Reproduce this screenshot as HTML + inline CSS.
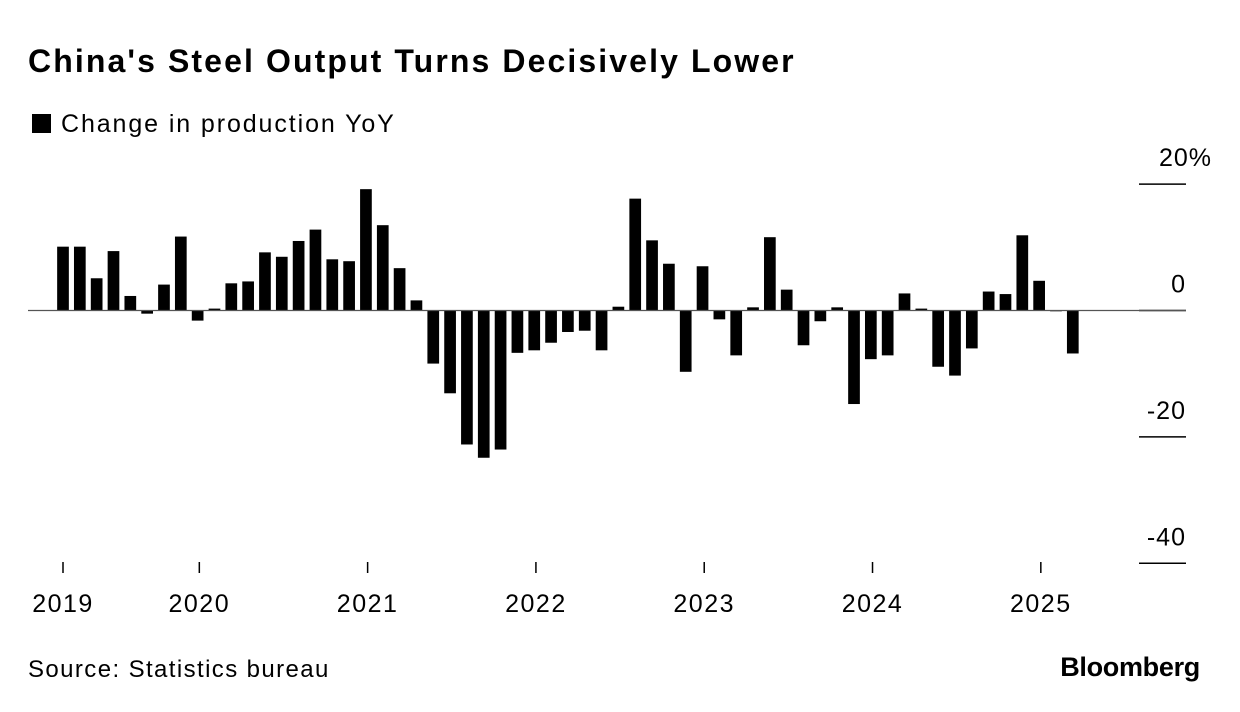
<!DOCTYPE html>
<html><head><meta charset="utf-8"><style>
body{margin:0;background:#fff;font-family:"Liberation Sans",sans-serif;}
#wrap{position:relative;width:1240px;height:712px;overflow:hidden}
.t{position:absolute;white-space:nowrap;color:#000}
</style></head><body>
<div id="wrap">
<div class="t" style="left:28px;top:43px;font-size:32px;font-weight:bold;letter-spacing:2.1px">China's Steel Output Turns Decisively Lower</div>
<div class="t" style="left:32px;top:110px;font-size:25px;letter-spacing:1.9px"><span style="display:inline-block;width:19px;height:19px;background:#000;margin-right:10px;vertical-align:-1px"></span>Change in production YoY</div>
<svg id="chart" width="1240" height="712" style="position:absolute;left:0;top:0"></svg>
<div class="t" style="left:28px;top:656px;font-size:24px;letter-spacing:1.4px">Source: Statistics bureau</div>
<div class="t" style="right:40px;top:652px;font-size:27px;font-weight:bold;letter-spacing:-0.3px">Bloomberg</div>
</div>
<script>
const values=[10.1,10.1,5.1,9.4,2.3,-0.5,4.1,11.7,-1.6,0.3,4.3,4.6,9.2,8.5,11.0,12.8,8.1,7.8,19.2,13.5,6.7,1.6,-8.4,-13.1,-21.2,-23.3,-22.0,-6.7,-6.3,-5.1,-3.4,-3.2,-6.3,0.6,17.7,11.1,7.4,-9.7,7.0,-1.4,-7.1,0.5,11.6,3.3,-5.5,-1.7,0.5,-14.8,-7.7,-7.1,2.7,0.3,-8.9,-10.3,-6.0,3.0,2.6,11.9,4.7,-0.1,-6.8];
const yTicks=[20,0,-20,-40];
const yTickLabels=["20%","0","-20","-40"];
const years=["2019","2020","2021","2022","2023","2024","2025"];
const yearPos=[0,8.1,18.1,28.1,38.1,48.1,58.1];
const NS="http://www.w3.org/2000/svg";
const svg=document.getElementById('chart');
const y0=310.5,ppu=6.32,x0=63,step=16.83,bw=11.7;
const y=v=>y0-v*ppu;
const x=i=>x0+i*step;
function mk(t,a){const e=document.createElementNS(NS,t);for(const k in a)e.setAttribute(k,a[k]);svg.appendChild(e);return e;}
yTicks.forEach((v,i)=>{
 const l=mk('line',{x1:1139,x2:1186,y1:y(v),y2:y(v),stroke:'#000','stroke-width':1.5});
 
 
 const t=mk('text',{x:i==0?1212:1186,y:y(v)-18,'text-anchor':'end','font-size':25,'letter-spacing':1,'font-family':'Liberation Sans, sans-serif'});
 t.textContent=yTickLabels[i];
 
 
});
values.forEach((v,i)=>{
 const h=Math.max(Math.abs(v*ppu),0.8);
 const r=mk('rect',{x:x(i)-bw/2,y:v>=0?y0-h:y0,width:bw,height:h,fill:'#000'});
 
 
});
const z=mk('line',{x1:28,x2:1186,y1:y0,y2:y0,stroke:'#555','stroke-width':1.3});


years.forEach((yr,i)=>{
 const xx=x(yearPos[i]);
 const l=mk('line',{x1:xx,x2:xx,y1:562,y2:573,stroke:'#000','stroke-width':1.5});
 
 
 const t=mk('text',{x:xx,y:612,'text-anchor':'middle','font-size':25,'letter-spacing':1.5,'font-family':'Liberation Sans, sans-serif'});
 t.textContent=yr;
 
 
});
</script>
</body></html>
